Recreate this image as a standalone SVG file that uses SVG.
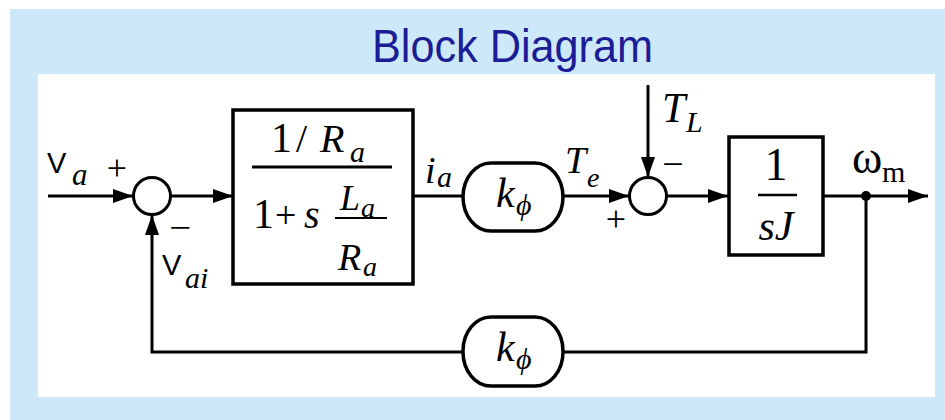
<svg xmlns="http://www.w3.org/2000/svg" width="945" height="420" viewBox="0 0 945 420">
<defs>
<marker id="arr" markerUnits="userSpaceOnUse" markerWidth="20" markerHeight="14" refX="20" refY="7" orient="auto">
<path d="M0,0 L20,7 L0,14 z" fill="#000"/>
</marker>
<style>
.ln{fill:none;stroke:#000;stroke-width:3}
.bx{fill:#fff;stroke:#000;stroke-width:3.5}
.m{font-family:"Liberation Serif","DejaVu Serif",serif;font-style:italic;fill:#000}
.r{font-family:"Liberation Serif","DejaVu Serif",serif;fill:#000}
.s{font-family:"Liberation Sans",Arial,sans-serif;fill:#000}
</style>
</defs>
<rect x="0" y="0" width="945" height="420" fill="#fff"/>
<rect x="10" y="9" width="935" height="411" fill="#cde9f9"/>
<rect x="38" y="74" width="897" height="323" fill="#fff"/>
<text x="372" y="62" textLength="281" lengthAdjust="spacingAndGlyphs" font-family="Liberation Sans,Arial,sans-serif" font-size="47" fill="#1c1c96">Block Diagram</text>

<g id="connectors">
<path class="ln" d="M48,196 H133" marker-end="url(#arr)"/>
<path class="ln" d="M171,196 H233" marker-end="url(#arr)"/>
<path class="ln" d="M413,196 H463"/>
<path class="ln" d="M563,196 H629" marker-end="url(#arr)"/>
<path class="ln" d="M648,85 V177" marker-end="url(#arr)"/>
<path class="ln" d="M667,196 H728" marker-end="url(#arr)"/>
<path class="ln" d="M823,196 H928" marker-end="url(#arr)"/>
<path class="ln" d="M866,196 V352 H563"/>
<path class="ln" d="M463,352 H152 V215" marker-end="url(#arr)"/>
<circle cx="866" cy="196" r="5" fill="#000"/>
</g>

<g id="labels">
<text class="s" x="47" y="173" font-size="29">V</text>
<text class="m" x="72" y="185" font-size="31">a</text>
<text class="r" x="117" y="180" font-size="36" text-anchor="middle">+</text>
<text class="r" x="180" y="239" font-size="34" text-anchor="middle" textLength="22" lengthAdjust="spacingAndGlyphs">−</text>
<text class="s" x="162" y="275" font-size="29">V</text>
<text class="m" x="185" y="288" font-size="30">ai</text>
<text class="m" x="425" y="183" font-size="38">i</text>
<text class="m" x="437" y="187" font-size="30">a</text>
<text class="m" x="565" y="173" font-size="38">T</text>
<text class="m" x="587" y="187" font-size="28">e</text>
<text class="r" x="616" y="231" font-size="36" text-anchor="middle">+</text>
<text class="r" x="673" y="177" font-size="38" text-anchor="middle">−</text>
<text class="m" x="662" y="122" font-size="42">T</text>
<text class="m" x="686" y="132" font-size="30">L</text>
<text class="r" x="852" y="173" font-size="46">ω</text>
<text class="r" x="882" y="182" font-size="30">m</text>
</g>

<g id="sum1"><circle cx="152" cy="196" r="18.5" class="ln" fill="#fff"/></g>
<g id="sum2"><circle cx="648" cy="196" r="18.5" class="ln" fill="#fff"/></g>

<g id="block1">
<rect class="bx" x="233" y="110" width="180" height="174"/>
<text class="r" x="271" y="152" font-size="42">1</text>
<text class="r" x="296" y="152" font-size="40">/</text>
<text class="m" x="320" y="152" font-size="40">R</text>
<text class="m" x="350" y="162" font-size="30">a</text>
<line class="ln" x1="252" y1="167" x2="392" y2="167"/>
<text class="r" x="253" y="228" font-size="42">1</text>
<text class="r" x="275" y="228" font-size="38">+</text>
<text class="m" x="304" y="228" font-size="40">s</text>
<text class="m" x="340" y="210" font-size="36">L</text>
<text class="m" x="361" y="217" font-size="28">a</text>
<line x1="335" y1="218" x2="387" y2="218" stroke="#000" stroke-width="2"/>
<text class="m" x="338" y="270" font-size="38">R</text>
<text class="m" x="363" y="276" font-size="28">a</text>
</g>

<g id="gain1">
<rect class="bx" x="463" y="163" width="100" height="68" rx="28" ry="34"/>
<text class="m" x="496" y="207" font-size="42">k</text>
<text class="m" x="516" y="215" font-size="30">ϕ</text>
</g>

<g id="block2">
<rect class="bx" x="729" y="137" width="94" height="118"/>
<text class="r" x="776" y="180" font-size="46" text-anchor="middle">1</text>
<line x1="758" y1="195" x2="797" y2="195" stroke="#000" stroke-width="2.5"/>
<text class="m" x="776" y="240" font-size="42" text-anchor="middle">sJ</text>
</g>

<g id="gain2">
<rect class="bx" x="463" y="317" width="100" height="69" rx="28" ry="34"/>
<text class="m" x="496" y="361" font-size="42">k</text>
<text class="m" x="516" y="369" font-size="30">ϕ</text>
</g>
</svg>
